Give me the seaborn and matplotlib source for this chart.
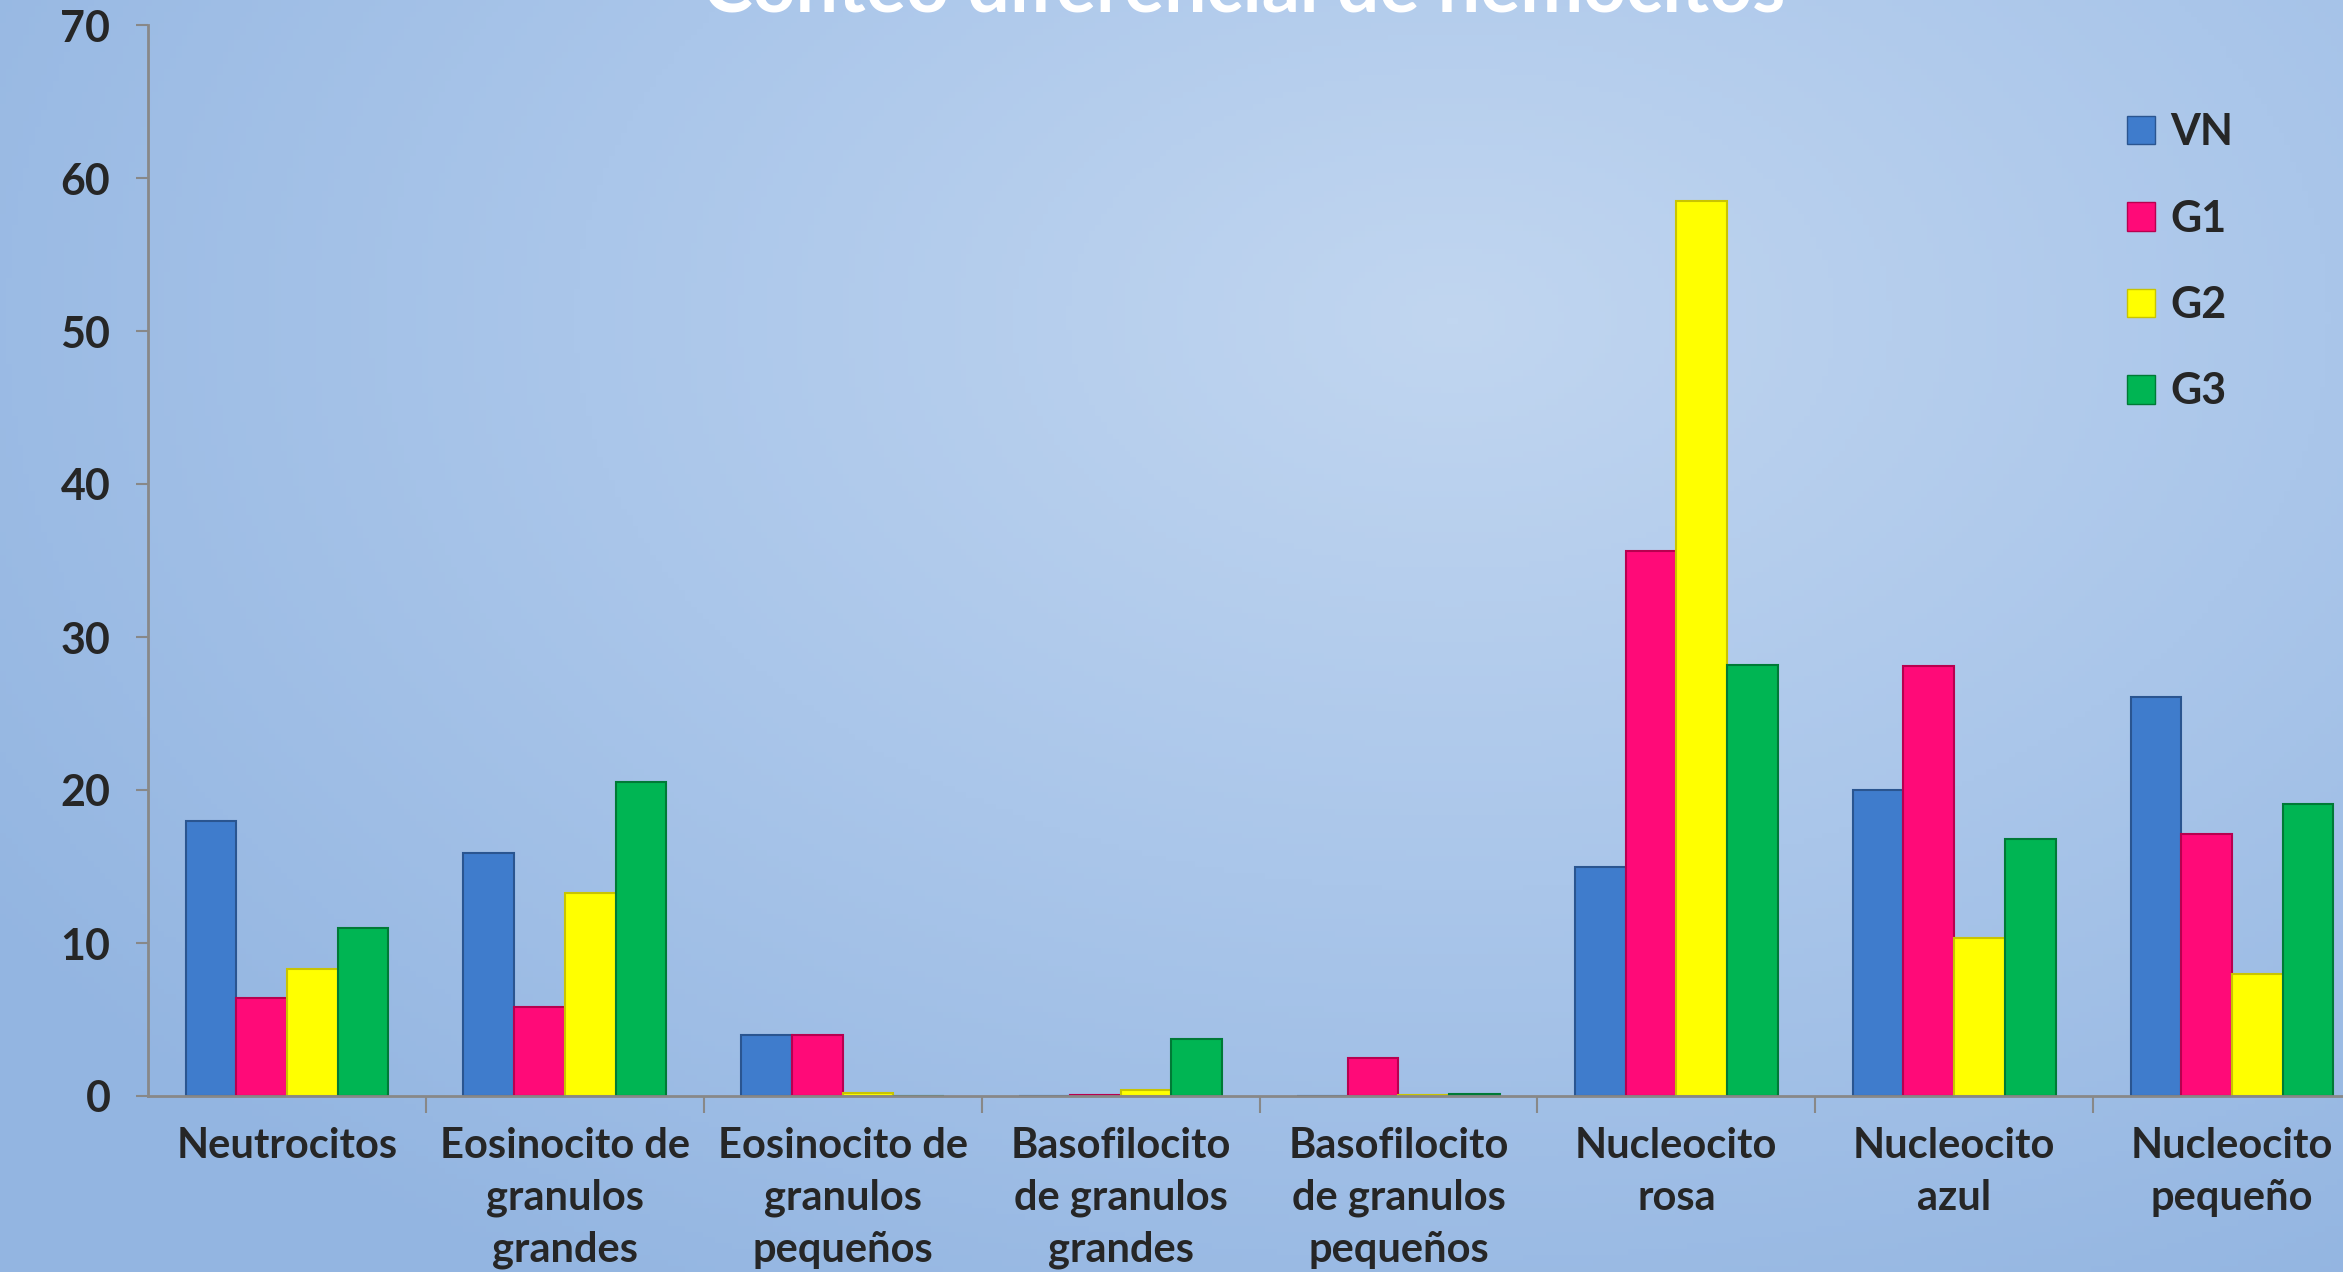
import numpy as np
import pandas as pd
import seaborn as sns
import matplotlib.pyplot as plt
import matplotlib.colors as mcolors

categories = ['Neutrocitos', 'Eosinocito de\ngranulos\ngrandes', 'Eosinocito de\ngranulos\npequeños',
              'Basofilocito\nde granulos\ngrandes', 'Basofilocito\nde granulos\npequeños',
              'Nucleocito\nrosa', 'Nucleocito\nazul', 'Nucleocito\npequeño']
groups = ['VN', 'G1', 'G2', 'G3']
vn = [18.0, 15.9, 4.0, 0.0, 0.0, 15.0, 20.0, 26.1]
g1 = [6.4, 5.8, 4.0, 0.05, 2.5, 35.6, 28.1, 17.1]
g2 = [8.3, 13.3, 0.2, 0.4, 0.05, 58.5, 10.3, 8.0]
g3 = [11.0, 20.5, 0.0, 3.7, 0.15, 28.2, 16.8, 19.1]
yticks = [0, 10, 20, 30, 40, 50, 60, 70]

colors = {'VN': '#3f7ccc', 'G1': '#ff0a78', 'G2': '#ffff00', 'G3': '#00b553'}
edges = {'VN': '#2a5590', 'G1': '#b8004f', 'G2': '#c9c400', 'G3': '#007a36'}

df = pd.DataFrame({
    'cat': np.repeat(categories, 4),
    'grp': groups * len(categories),
    'val': [v for row in zip(vn, g1, g2, g3) for v in row],
})

sns.set_style('white')
plt.rcParams['font.family'] = ['Lato', 'DejaVu Sans']

fig = plt.figure(figsize=(23.43, 12.72), dpi=100)

# gradient background
bg = fig.add_axes([0, 0, 1, 1], zorder=-10)
xx, yy = np.meshgrid(np.linspace(0, 1, 400), np.linspace(0, 1, 220))
r = np.sqrt(((xx - 0.62) / 0.75) ** 2 + ((yy - 0.25) / 0.9) ** 2)
r = np.clip(r, 0, 1)
cmap = mcolors.LinearSegmentedColormap.from_list('bg', ['#c1d6f0', '#aac6ea', '#93b5e1'])
bg.imshow(r, cmap=cmap, aspect='auto', extent=[0, 1, 0, 1], vmin=0, vmax=1)
bg.axis('off')

# axes runs a little past the right edge, like the original slide
ax = fig.add_axes([148 / 2343, 1 - 1096 / 1272, 2223 / 2343, (1096 - 25) / 1272])
ax.patch.set_alpha(0)
sns.barplot(data=df, x='cat', y='val', hue='grp', hue_order=groups, order=categories,
            palette=colors, width=0.73, gap=0, saturation=1, ax=ax, legend=True)

for cont, g in zip(ax.containers, groups):
    for p in cont:
        p.set_edgecolor(edges[g])
        p.set_linewidth(1.5)

ax.set_ylim(0, 70)
ax.set_xlim(-0.5, 7.5)
ax.set_yticks(yticks)
ax.set_xlabel('')
ax.set_ylabel('')
for s in ['top', 'right']:
    ax.spines[s].set_visible(False)
for s in ['left', 'bottom']:
    ax.spines[s].set_color('#888888')
    ax.spines[s].set_linewidth(2)

ax.tick_params(axis='y', which='major', left=True, length=9, width=1.5, color='#888888',
               pad=18, labelsize=31)
ax.tick_params(axis='x', which='major', length=0, pad=22, labelsize=30)
ax.set_xticks(np.arange(0.5, 7.5, 1), minor=True)
ax.tick_params(axis='x', which='minor', bottom=True, length=12, width=1.5, color='#888888')
for lab in ax.get_yticklabels():
    lab.set_fontweight('bold')
for lab in ax.get_xticklabels():
    lab.set_fontweight('bold')
    lab.set_linespacing(1.45)

leg = ax.legend(loc='upper left', bbox_to_anchor=(2127 / 2343, 1 - 112 / 1272),
                bbox_transform=fig.transFigure, frameon=False, borderpad=0, borderaxespad=0,
                prop={'weight': 'bold', 'size': 31}, labelspacing=1.08,
                handlelength=0.65, handleheight=0.65, handletextpad=0.35)
for h, g in zip(leg.legend_handles, groups):
    h.set_edgecolor(edges[g])

fig.text(0.531, 1 - 12 / 1272, 'Conteo diferencial de hemocitos', color='white',
         fontsize=54, fontweight='bold', ha='center', va='baseline')

fig.savefig('out.png', dpi=100)
